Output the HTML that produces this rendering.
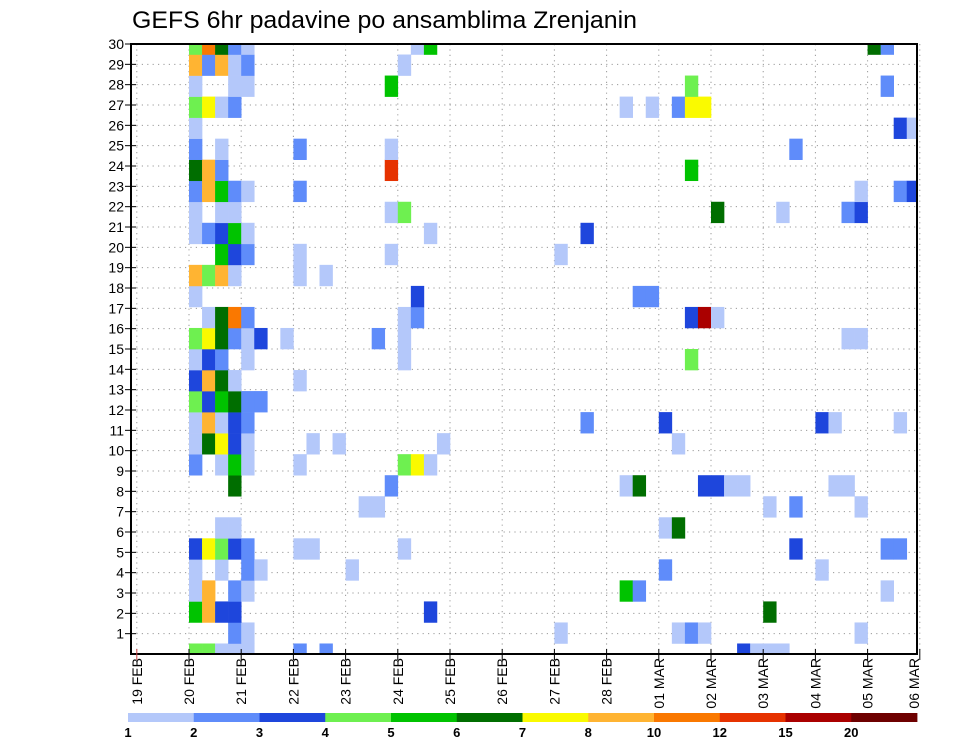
<!DOCTYPE html>
<html><head><meta charset="utf-8"><style>
html,body{margin:0;padding:0;background:#fff;}
svg{display:block;font-family:"Liberation Sans",sans-serif;}
</style></head><body>
<svg id="chart" width="960" height="742" viewBox="0 0 960 742" xmlns="http://www.w3.org/2000/svg">
<rect width="960" height="742" fill="#fff"/>
<text x="132" y="28" font-size="24" textLength="505" lengthAdjust="spacingAndGlyphs" fill="#000">GEFS 6hr padavine po ansamblima Zrenjanin</text>
<clipPath id="plotclip"><rect x="131" y="44" width="786" height="610"/></clipPath>
<g id="grid"></g>
<g id="cells" clip-path="url(#plotclip)"></g>
<rect x="131" y="44" width="786" height="610" fill="none" stroke="#000" stroke-width="2"/>
<g id="yaxis"></g>
<g id="xaxis"></g>
<g id="legend"></g>
</svg>
<script>
// ---- data ----
const dayLabels = ["19 FEB","20 FEB","21 FEB","22 FEB","23 FEB","24 FEB","25 FEB","26 FEB","27 FEB","28 FEB","01 MAR","02 MAR","03 MAR","04 MAR","05 MAR","06 MAR"];
const yTicks = [1,2,3,4,5,6,7,8,9,10,11,12,13,14,15,16,17,18,19,20,21,22,23,24,25,26,27,28,29,30];
const levelLabels = ["1","2","3","4","5","6","7","8","10","12","15","20"];
const levelColors = ["#b4c8fa","#5f8cfa","#1e46dc","#6ef050","#00c300","#006e00","#fafa00","#ffb432","#fa7800","#e63200","#aa0000","#6e0000"];
// ensemble members (row index 0 = bottom), entries "column:level"
const member0  = ["0:4","1:4","2:1","3:1","4:1","8:2","10:2","42:3","43:1","44:1","45:1"];
const member1  = ["3:2","4:1","28:1","37:1","38:2","39:1","51:1"];
const member2  = ["0:5","1:8","2:3","3:3","18:3","44:6"];
const member3  = ["0:1","1:8","3:2","4:1","33:5","34:2","53:1"];
const member4  = ["0:1","2:1","4:2","5:1","12:1","36:2","48:1"];
const member5  = ["0:3","1:7","2:4","3:3","4:2","8:1","9:1","16:1","46:3","53:2","54:2"];
const member6  = ["2:1","3:1","36:1","37:6"];
const member7  = ["13:1","14:1","44:1","46:2","51:1"];
const member8  = ["3:6","15:2","33:1","34:6","39:3","40:3","41:1","42:1","49:1","50:1"];
const member9  = ["0:2","2:1","3:5","4:1","8:1","16:4","17:7","18:1"];
const member10 = ["0:1","1:6","2:7","3:3","4:1","9:1","11:1","19:1","37:1"];
const member11 = ["0:1","1:8","2:1","3:3","4:2","30:2","36:3","48:3","49:1","54:1"];
const member12 = ["0:4","1:3","2:5","3:6","4:2","5:2"];
const member13 = ["0:3","1:8","2:6","3:1","8:1"];
const member14 = ["0:1","1:3","2:2","4:1","16:1","38:4"];
const member15 = ["0:4","1:7","2:6","3:2","4:1","5:3","7:1","14:2","16:1","50:1","51:1"];
const member16 = ["1:1","2:6","3:9","4:2","16:1","17:2","38:3","39:11","40:1"];
const member17 = ["0:1","17:3","34:2","35:2"];
const member18 = ["0:8","1:4","2:8","3:1","8:1","10:1"];
const member19 = ["2:5","3:3","4:2","8:1","15:1","28:1"];
const member20 = ["0:1","1:2","2:3","3:5","4:1","18:1","30:3"];
const member21 = ["0:1","2:1","3:1","15:1","16:4","40:6","45:1","50:2","51:3"];
const member22 = ["0:2","1:8","2:5","3:2","4:1","8:2","51:1","54:2","55:3"];
const member23 = ["0:6","1:8","2:2","15:10","38:5"];
const member24 = ["0:2","2:1","8:2","15:1","46:2"];
const member25 = ["0:1","54:3","55:1"];
const member26 = ["0:4","1:7","2:1","3:2","33:1","35:1","37:2","38:7","39:7"];
const member27 = ["0:1","3:1","4:1","15:5","38:4","53:2"];
const member28 = ["0:8","1:2","2:8","3:1","4:2","16:1"];
const member29 = ["0:4","1:9","2:6","3:2","4:1","17:1","18:5","52:6","53:2"];
const members = [member0,member1,member2,member3,member4,member5,member6,member7,member8,member9,member10,member11,member12,member13,member14,member15,member16,member17,member18,member19,member20,member21,member22,member23,member24,member25,member26,member27,member28,member29];

// ---- scales ----
const NS = "http://www.w3.org/2000/svg";
const X0 = 131, X1 = 917, Y0 = 44, Y1 = 654;
const DAY = 52.2, DAY0X = 136.8;
function xDay(d){ return DAY0X + d*DAY; }
function xCol(c){ return xDay(1) + c*DAY/4; }
function yTick(v){ return Y1 - v*(Y1-Y0)/30; }
function yMember(m){ return Y1 - m*(Y1-Y0)/29; }
const cellH = (Y1-Y0)/29;
function mk(tag, attrs, parent){ const e=document.createElementNS(NS,tag); for(const k in attrs) e.setAttribute(k,attrs[k]); parent.appendChild(e); return e; }

const grid = document.getElementById('grid');
yTicks.forEach(v=>{
  const l = mk('line',{x1:X0,x2:X1,y1:yTick(v),y2:yTick(v),stroke:'#999','stroke-width':1,'stroke-dasharray':'1.2,4.2'},grid);
  
  
});
dayLabels.forEach((d,i)=>{
  const l = mk('line',{x1:xDay(i),x2:xDay(i),y1:Y0,y2:Y1,stroke:'#999','stroke-width':1,'stroke-dasharray':'1.2,4.2'},grid);
  
  
});

const cells = document.getElementById('cells');
members.forEach((row,m)=>{
  row.forEach(s=>{
    const [c,lv] = s.split(':').map(Number);
    const r = mk('rect',{x:xCol(c),y:yMember(m)-cellH/2,width:DAY/4+0.3,height:cellH+0.3,fill:levelColors[lv-1]},cells);
    
    
  });
});

const ya = document.getElementById('yaxis');
yTicks.forEach(v=>{
  const t = mk('line',{x1:125,x2:136,y1:yTick(v),y2:yTick(v),stroke:'#000','stroke-width':1},ya);
  
  
  const tx = mk('text',{x:124,y:yTick(v)+5,'font-size':14,'text-anchor':'end',fill:'#000'},ya);
  tx.textContent = v;
  
  
});

const xa = document.getElementById('xaxis');
dayLabels.forEach((d,i)=>{
  const x = Math.min(xDay(i), 914);
  const t = mk('line',{x1:xDay(i),x2:xDay(i),y1:649,y2:660,stroke:i===0?'#c44':'#000','stroke-width':1},xa);
  
  
  const tx = mk('text',{x:0,y:0,'font-size':14,'text-anchor':'end',fill:'#000',transform:'translate('+(x+5)+',658) rotate(-90)'},xa);
  tx.textContent = d;
  
  
});

const lg = document.getElementById('legend');
const LX0 = 128, LX1 = 917, LW = (LX1-LX0)/levelColors.length;
levelColors.forEach((col,i)=>{
  const r = mk('rect',{x:LX0+i*LW,y:713,width:LW+0.4,height:9,fill:col},lg);
  
  
});
levelLabels.forEach((lab,i)=>{
  const tx = mk('text',{x:LX0+i*LW,y:737,'font-size':13,'font-weight':'bold','text-anchor':'middle',fill:'#000'},lg);
  tx.textContent = lab;
  
  
});
</script>
</body></html>
